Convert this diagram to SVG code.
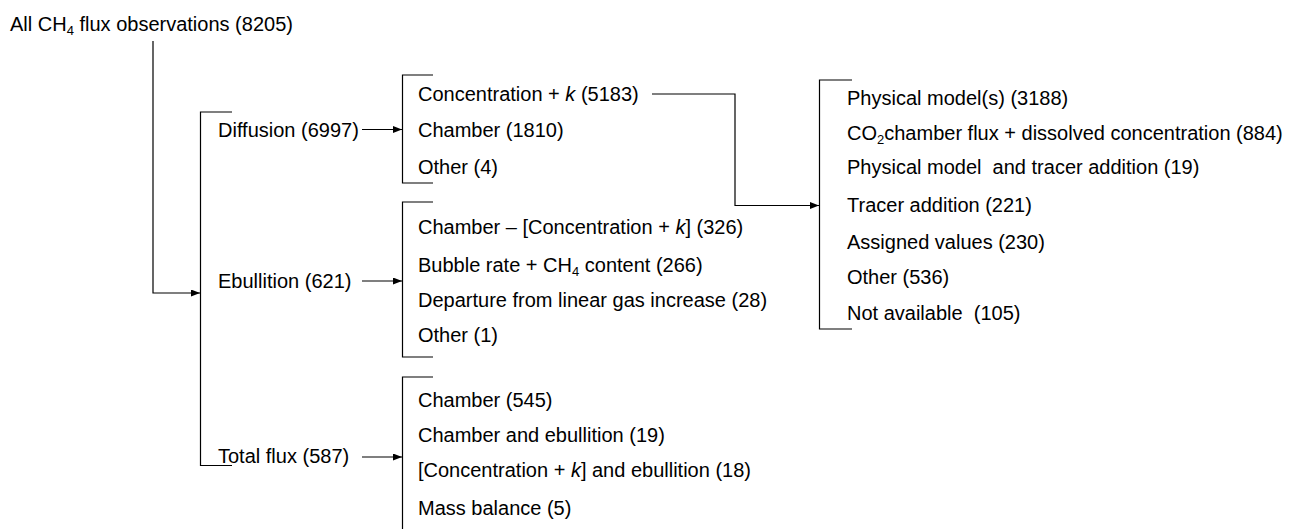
<svg xmlns="http://www.w3.org/2000/svg" width="1290" height="529" viewBox="0 0 1290 529">
<defs>
<marker id="arr" markerWidth="10" markerHeight="8" refX="9" refY="3.5" orient="auto" markerUnits="userSpaceOnUse">
<path d="M0,0 L9,3.5 L0,7 z" fill="#000"/>
</marker>
<style>
text{font-family:"Liberation Sans",Arial,sans-serif;font-size:20px;fill:#000;white-space:pre}
.br{fill:none;stroke:#000;stroke-width:1.2}
.cn{fill:none;stroke:#000;stroke-width:1.2;marker-end:url(#arr)}
.sub{font-size:13px}
</style>
</defs>
<rect width="1290" height="529" fill="#fff"/>
<g id="root"><text x="10" y="31">All CH<tspan class="sub" dy="4">4</tspan><tspan dy="-4"> flux observations (8205)</tspan></text></g>
<g id="level1-bracket"><path class="br" d="M232,112 H200.5 V465.5 H232"/></g>
<g id="diffusion"><text x="218" y="136.5">Diffusion (6997)</text></g>
<g id="ebullition"><text x="218" y="288">Ebullition (621)</text></g>
<g id="total-flux"><text x="218" y="462.5">Total flux (587)</text></g>
<g id="diffusion-methods">
<path class="br" d="M433,75 H402.5 V183 H433"/>
<text x="418" y="101">Concentration + <tspan font-style="italic">k</tspan> (5183)</text>
<text x="418" y="137">Chamber (1810)</text>
<text x="418" y="174">Other (4)</text>
</g>
<g id="ebullition-methods">
<path class="br" d="M433,202 H402.5 V357 H433"/>
<text x="418" y="234">Chamber – [Concentration + <tspan font-style="italic">k</tspan>] (326)</text>
<text x="418" y="272">Bubble rate + CH<tspan class="sub" dy="4">4</tspan><tspan dy="-4"> content (266)</tspan></text>
<text x="418" y="307">Departure from linear gas increase (28)</text>
<text x="418" y="342">Other (1)</text>
</g>
<g id="total-methods">
<path class="br" d="M433,377 H402.5 V529"/>
<text x="418" y="407">Chamber (545)</text>
<text x="418" y="442">Chamber and ebullition (19)</text>
<text x="418" y="477">[Concentration + <tspan font-style="italic">k</tspan>] and ebullition (18)</text>
<text x="418" y="515">Mass balance (5)</text>
</g>
<g id="k-methods">
<path class="br" d="M852,80 H819.5 V329 H852"/>
<text x="847" y="105">Physical model(s) (3188)</text>
<text x="847" y="140">CO<tspan class="sub" dy="4">2</tspan><tspan dy="-4">chamber flux + dissolved concentration (884)</tspan></text>
<text x="847" y="174">Physical model  and tracer addition (19)</text>
<text x="847" y="212">Tracer addition (221)</text>
<text x="847" y="249">Assigned values (230)</text>
<text x="847" y="284">Other (536)</text>
<text x="847" y="320">Not available  (105)</text>
</g>
<g id="connectors">
<path class="cn" d="M153,41 V293 H200"/>
<path class="cn" d="M362,129.5 H402"/>
<path class="cn" d="M362,281 H402"/>
<path class="cn" d="M362,457 H402"/>
<path class="cn" d="M652,94 H735 V205.5 H819"/>
</g>
</svg>
